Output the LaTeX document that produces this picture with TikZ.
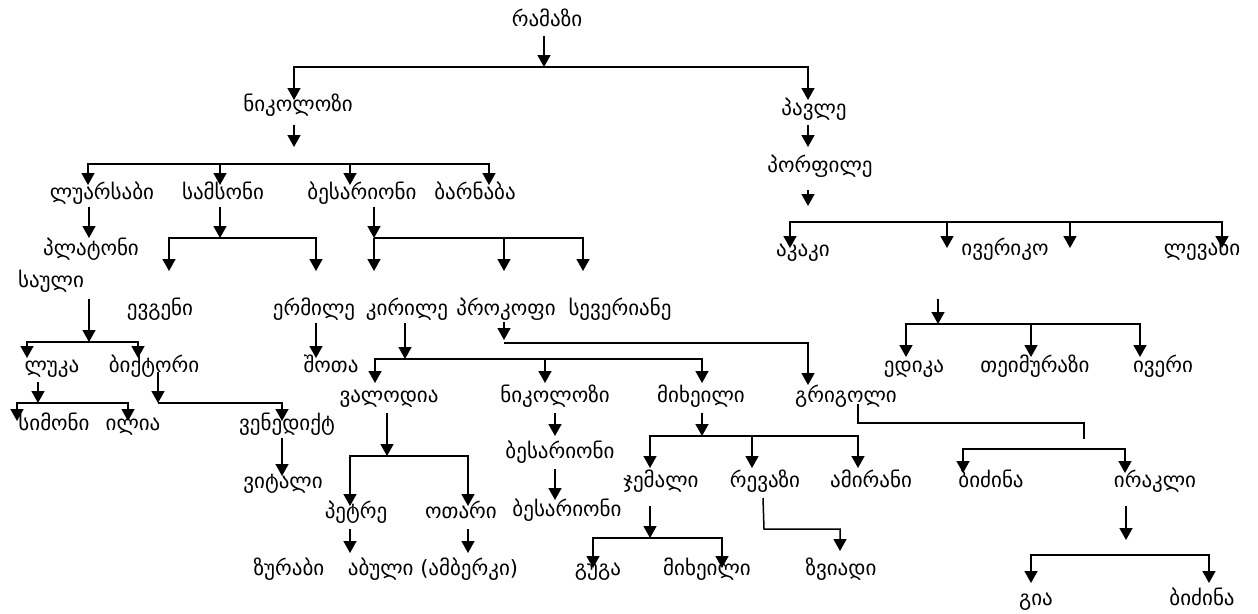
\documentclass[tikz,border=0pt]{standalone}
\usepackage{fontspec}
\newfontfamily\geo{DejaVu Sans}
\usetikzlibrary{arrows.meta}
\begin{document}
\begin{tikzpicture}[x=1pt,y=-1pt,
  nm/.style={font=\geo\fontsize{21}{24}\selectfont, inner sep=0pt, anchor=mid},
  conn/.style={line width=1.5pt, -{Triangle[width=13pt,length=12pt]}},
  plain/.style={line width=1.5pt},
  bar/.style={line width=1.5pt, {Triangle[width=13pt,length=12pt]}-{Triangle[width=13pt,length=12pt]}}]
\useasboundingbox[fill=white] (0,0) rectangle (1258,613);
% names
\node[nm] (r) at (547,24) {რამაზი};
\node[nm] (n1) at (298,109) {ნიკოლოზი};
\node[nm] (p) at (814,113) {პავლე};
\node[nm] (por) at (820,170) {პორფილე};
\node[nm] (lu) at (102,197) {ლუარსაბი};
\node[nm] (sam) at (223,197) {სამსონი};
\node[nm] (bes) at (362,197) {ბესარიონი};
\node[nm] (barn) at (475,197) {ბარნაბა};
\node[nm] (pla) at (91,253) {პლატონი};
\node[nm] (sau) at (51,285) {საული};
\node[nm] (ak) at (803,254) {აკაკი};
\node[nm] (iv) at (1005,253) {ივერიკო};
\node[nm] (lev) at (1202,253) {ლევანი};
\node[nm] (evg) at (160,313) {ევგენი};
\node[nm] (erm) at (314,313) {ერმილე};
\node[nm] (kir) at (407,313) {კირილე};
\node[nm] (pro) at (506,313) {პროკოფი};
\node[nm] (sev) at (620,313) {სევერიანე};
\node[nm] (luk) at (52,370) {ლუკა};
\node[nm] (bik) at (154,370) {ბიქტორი};
\node[nm] (sho) at (331,370) {შოთა};
\node[nm] (edi) at (914,370) {ედიკა};
\node[nm] (tei) at (1035,370) {თეიმურაზი};
\node[nm] (iveri) at (1163,370) {ივერი};
\node[nm] (val) at (389,400) {ვალოდია};
\node[nm] (nik) at (555,400) {ნიკოლოზი};
\node[nm] (mix) at (701,400) {მიხეილი};
\node[nm] (gri) at (846,400) {გრიგოლი};
\node[nm] (sim) at (54,428) {სიმონი};
\node[nm] (ili) at (133,428) {ილია};
\node[nm] (ven) at (287,428) {ვენედიქტ};
\node[nm] (bes2) at (560,456) {ბესარიონი};
\node[nm] (jem) at (661,485) {ჯემალი};
\node[nm] (rev) at (765,485) {რევაზი};
\node[nm] (ami) at (871,485) {ამირანი};
\node[nm] (bid) at (991,485) {ბიძინა};
\node[nm] (ira) at (1155,485) {ირაკლი};
\node[nm] (vit) at (283,486) {ვიტალი};
\node[nm] (bes3) at (567,514) {ბესარიონი};
\node[nm] (pet) at (356,516) {პეტრე};
\node[nm] (ota) at (461,516) {ოთარი};
\node[nm] (zur) at (289,573) {ზურაბი};
\node[nm] (abu) at (433,573) {აბული (ამბერკი)};
\node[nm] (gug) at (598,573) {გუგა};
\node[nm] (mix2) at (707,573) {მიხეილი};
\node[nm] (zvi) at (841,573) {ზვიადი};
\node[nm] (gia) at (1036,603) {გია};
\node[nm] (bid2) at (1202,603) {ბიძინა};
% junction coordinates
\foreach \n/\x/\y in {rS/544/36, rJ/544/67, n1T/294/100, pT/808/100,
  n1S/294/125, n1E/294/147, luT/88/185, samT/220/185, besT/350/185, barT/489/185,
  b1L/88/164, b1a/220/164, b1b/350/164, b1R/489/164,
  pS/808/125, pE/808/147, porS/808/190, porE/808/206,
  akT/790/248, ivT/947/248, xT/1070/248, levT/1222/248,
  b2L/790/222, b2a/947/222, b2b/1070/222, b2R/1222/222,
  iS/938/299, iJ/938/324, b3L/906/324, b3a/1031/324, b3R/1140/324,
  ediT/906/357, teiT/1031/357, iveriT/1140/357,
  luS/89/207, luE/89/238,
  samS/220/207, samJ/220/238, b4L/169/238, b4R/316/238, evgT/169/271, ermT/316/271,
  besS/374/207, besJ/374/238, b5a/504/238, b5R/583/238, kirT/374/271, proT/504/271, sevT/583/271,
  sauS/89/299, sauJ/89/342, b6L/27/342, b6R/138/342, lukT/27/358, bikT/138/358,
  ermS/316/323, ermE/316/358,
  kirS/405/323, kirJ/405/359, b7L/375/359, b7a/545/359, b7R/702/359,
  valT/375/383, nikT/545/383, mixT/702/383,
  proS/504/322, proJ/504/343, b8R/808/343, griT/808/385,
  lukS/38/382, lukJ/38/403, b9L/17/403, b9R/128/403, simT/17/421, iliT/128/421,
  bikS/158/372, bikJ/158/403, b10R/282/403, venT/282/421,
  venS/282/438, venE/282/476,
  valS/387/413, valJ/387/456, b11L/350/456, b11R/468/456, petT/350/506, otaT/468/506,
  petS/350/529, petE/350/553, otaS/468/529, otaE/468/553,
  nikS/555/413, nikE/555/436, bes2S/555/469, bes2E/555/500,
  mixS/702/413, mixJ/702/436, b12L/650/436, b12a/752/436, b12R/858/436,
  jemT/650/468, revT/752/468, amiT/858/468,
  jemS/650/506, jemJ/650/538, b13L/593/538, b13R/722/538, gugT/593/568, mix2T/722/568,
  revS/763/498, revK/764/529, revK2/840/529, revE/840/551,
  griS/858/404, griK/858/423, griK2/1084/423, griE/1084/439,
  b14L/963/449, b14R/1125/449, bidT/963/473, iraT/1125/473,
  iraS/1126/506, iraE/1126/540,
  b15L/1031/555, b15R/1209/555, giaT/1031/583, bid2T/1209/583}
  \coordinate (\n) at (\x,\y);
% connectors
\draw[conn] (rS) -- (rJ);
\draw[bar] (n1T) -- (n1T |- rJ) -- (pT |- rJ) -- (pT);
\draw[conn] (n1S) -- (n1E);
\draw[bar] (luT) -- (b1L) -- (b1R) -- (barT);
\draw[conn] (b1a) -- (samT);
\draw[conn] (b1b) -- (besT);
\draw[conn] (pS) -- (pE);
\draw[conn] (porS) -- (porE);
\draw[bar] (akT) -- (b2L) -- (b2R) -- (levT);
\draw[conn] (b2a) -- (ivT);
\draw[conn] (b2b) -- (xT);
\draw[conn] (iS) -- (iJ);
\draw[bar] (ediT) -- (b3L) -- (b3R) -- (iveriT);
\draw[conn] (b3a) -- (teiT);
\draw[conn] (luS) -- (luE);
\draw[conn] (samS) -- (samJ);
\draw[bar] (evgT) -- (b4L) -- (b4R) -- (ermT);
\draw[conn] (besS) -- (besJ);
\draw[conn] (besJ) -- (b5R) -- (sevT);
\draw[conn] (besJ) -- (kirT);
\draw[conn] (b5a) -- (proT);
\draw[conn] (sauS) -- (sauJ);
\draw[bar] (lukT) -- (b6L) -- (b6R) -- (bikT);
\draw[conn] (ermS) -- (ermE);
\draw[conn] (kirS) -- (kirJ);
\draw[bar] (valT) -- (b7L) -- (b7R) -- (mixT);
\draw[conn] (b7a) -- (nikT);
\draw[conn] (proS) -- (proJ |- 0,340);
\draw[conn] (proJ) -- (b8R) -- (griT);
\draw[conn] (lukS) -- (lukJ);
\draw[bar] (simT) -- (b9L) -- (b9R) -- (iliT);
\draw[conn] (bikS) -- (bikJ);
\draw[conn] (bikJ) -- (b10R) -- (venT);
\draw[conn] (venS) -- (venE);
\draw[conn] (valS) -- (valJ);
\draw[bar] (petT) -- (b11L) -- (b11R) -- (otaT);
\draw[conn] (petS) -- (petE);
\draw[conn] (otaS) -- (otaE);
\draw[conn] (nikS) -- (nikE);
\draw[conn] (bes2S) -- (bes2E);
\draw[conn] (mixS) -- (mixJ);
\draw[bar] (jemT) -- (b12L) -- (b12R) -- (amiT);
\draw[conn] (b12a) -- (revT);
\draw[conn] (jemS) -- (jemJ);
\draw[bar] (gugT) -- (b13L) -- (b13R) -- (mix2T);
\draw[conn] (revS) -- (revK) -- (revK2) -- (revE);
\draw[plain] (griS) -- (griK) -- (griK2) -- (griE);
\draw[bar] (bidT) -- (b14L) -- (b14R) -- (iraT);
\draw[conn] (iraS) -- (iraE);
\draw[bar] (giaT) -- (b15L) -- (b15R) -- (bid2T);
\end{tikzpicture}
\end{document}
